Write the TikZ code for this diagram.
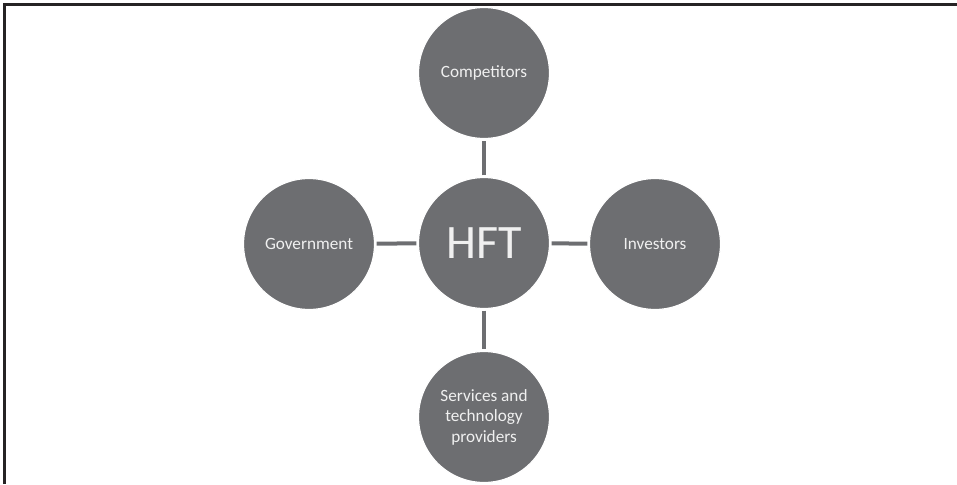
\documentclass[tikz,border=0pt]{standalone}
\usepackage{fontspec}
\setmainfont{Carlito}
\definecolor{disc}{HTML}{6D6E71}
\definecolor{frame}{HTML}{262324}
\tikzset{
  party/.style={circle, fill=disc, draw=white, line width=1.2pt, minimum size=131pt,
    inner sep=0pt, text=white!94!black, align=center,
    font=\fontsize{17.2}{20.5}\selectfont},
  link/.style={draw=disc, line width=4pt, shorten <=1.5pt, shorten >=1.5pt}
}
\begin{document}
\begin{tikzpicture}[x=1pt, y=-1pt]

  %% ==== frame ====
  \draw[frame, line width=3pt] (4.5,484) -- (4.5,5) -- (957,5);

  %% ==== circles ====
  \node[party, font=\fontsize{48}{50}\selectfont] (hft) at (484,243) {HFT};
  \node[party] (comp) at (484,73) {Competitors};
  \node[party] (gov)  at (309,244) {Government};
  \node[party] (inv)  at (655,244) {Investors};
  \node[party] (serv) at (484,417) {Services and\\technology\\providers};

  %% ==== connectors ====
  \draw[link] (hft) -- (comp);
  \draw[link] (hft) -- (gov);
  \draw[link] (hft) -- (inv);
  \draw[link] (hft) -- (serv);

  \pgfresetboundingbox
  \path[use as bounding box] (0,0) rectangle (957,484);
\end{tikzpicture}
\end{document}
